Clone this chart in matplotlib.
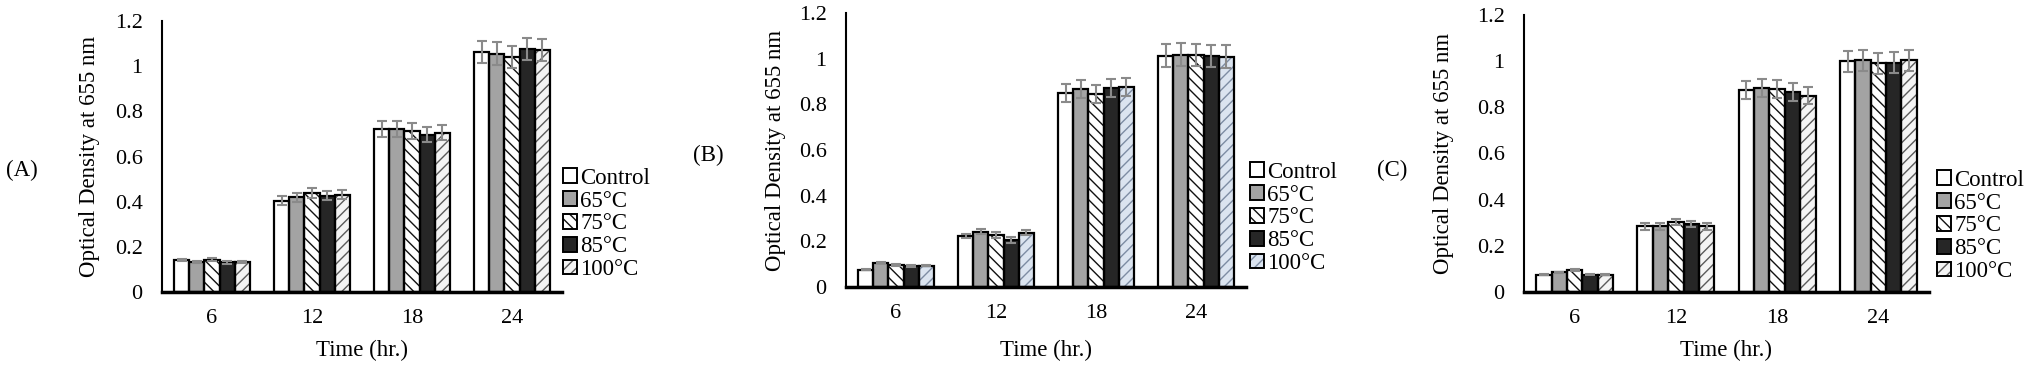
import numpy as np
import matplotlib
matplotlib.use("Agg")
from matplotlib import pyplot as plt
from matplotlib.patches import Patch

# values
times = ["6", "12", "18", "24"]
treatments = ["Control", "65\u00b0C", "75\u00b0C", "85\u00b0C", "100\u00b0C"]
yticks = [0, 0.2, 0.4, 0.6, 0.8, 1.0, 1.2]
ytick_labels = ["0", "0.2", "0.4", "0.6", "0.8", "1", "1.2"]
panel_names = ["(A)", "(B)", "(C)"]

# panel A, one row per treatment (6, 12, 18, 24 h)
od_a = [
    [0.143, 0.405, 0.720, 1.063],
    [0.134, 0.420, 0.720, 1.056],
    [0.143, 0.437, 0.712, 1.041],
    [0.131, 0.426, 0.697, 1.076],
    [0.134, 0.430, 0.706, 1.072],
]
err_a = [
    [0.005, 0.020, 0.035, 0.050],
    [0.005, 0.020, 0.035, 0.050],
    [0.006, 0.022, 0.035, 0.050],
    [0.005, 0.020, 0.032, 0.050],
    [0.004, 0.020, 0.032, 0.050],
]

# panel B
od_b = [
    [0.076, 0.223, 0.849, 1.013],
    [0.107, 0.243, 0.867, 1.018],
    [0.098, 0.227, 0.845, 1.018],
    [0.091, 0.206, 0.870, 1.013],
    [0.094, 0.238, 0.877, 1.009],
]
err_b = [
    [0.003, 0.010, 0.040, 0.050],
    [0.004, 0.012, 0.040, 0.050],
    [0.004, 0.012, 0.040, 0.048],
    [0.004, 0.012, 0.040, 0.048],
    [0.004, 0.012, 0.040, 0.050],
]

# panel C
od_c = [
    [0.075, 0.284, 0.876, 1.000],
    [0.085, 0.284, 0.883, 1.004],
    [0.097, 0.304, 0.879, 0.990],
    [0.075, 0.294, 0.866, 0.993],
    [0.075, 0.284, 0.851, 1.003],
]
err_c = [
    [0.003, 0.014, 0.040, 0.045],
    [0.003, 0.014, 0.040, 0.045],
    [0.004, 0.014, 0.040, 0.045],
    [0.003, 0.012, 0.040, 0.045],
    [0.003, 0.014, 0.038, 0.045],
]

plt.rcParams["font.family"] = ["Liberation Serif", "DejaVu Serif"]
FS = 16.5
FS_TICK = 16

W, H = 2027, 367
fig = plt.figure(figsize=(W / 100, H / 100), dpi=100)


def px(x0, y0, w, h):
    # pixel box (top-left origin) -> figure fractions
    return [x0 / W, (H - y0 - h) / H, w / W, h / H]


# face, hatch, hatch colour per treatment
styles_ac = [
    ("#ffffff", None, "k"),
    ("#a3a3a3", None, "k"),
    ("#ffffff", "\\\\\\", "#111111"),
    ("#262626", None, "k"),
    ("#f4f4f4", "///", "#5a5a5a"),
]
styles_b = list(styles_ac)
styles_b[4] = ("#dbe4f0", "///", "#7d8ca3")

panels = [
    dict(od=od_a, err=err_a, box=px(162, 21, 400, 271), styles=styles_ac,
         tag=(22, 170), ylab_x=89, leg=(563, 224)),
    dict(od=od_b, err=err_b, box=px(846, 13, 400, 274), styles=styles_b,
         tag=(708, 155), ylab_x=775, leg=(1250, 218)),
    dict(od=od_c, err=err_c, box=px(1524, 15, 405, 277), styles=styles_ac,
         tag=(1392, 170), ylab_x=1443, leg=(1937, 226)),
]

x = np.arange(len(times))
bw = 0.152

for name, p in zip(panel_names, panels):
    ax = fig.add_axes(p["box"])
    handles = []
    for i, lab in enumerate(treatments):
        face, hatch, hcol = p["styles"][i]
        xs = x + (i - 2) * bw
        vals = p["od"][i]
        # fill + hatch first, outline drawn on top in black
        ax.bar(xs, vals, bw, color=face, edgecolor=hcol, hatch=hatch, linewidth=0, zorder=2)
        ax.bar(xs, vals, bw, fill=False, edgecolor="black", linewidth=1.6, zorder=3)
        ax.errorbar(xs, vals, yerr=p["err"][i], fmt="none", ecolor="#8a8a8a",
                    elinewidth=1.5, capsize=3.5, capthick=1.5, zorder=4)
        h1 = Patch(facecolor=face, edgecolor=hcol, hatch=hatch, linewidth=0)
        h2 = Patch(fill=False, edgecolor="black", linewidth=1.4)
        handles.append((h1, h2))

    ax.set_xlim(-0.5, 3.5)
    ax.set_ylim(0, 1.2)
    ax.set_xticks(x)
    ax.set_xticklabels(times)
    ax.set_yticks(yticks)
    ax.set_yticklabels(ytick_labels)
    ax.tick_params(axis="both", length=0, labelsize=FS_TICK)
    ax.tick_params(axis="x", pad=12)
    ax.tick_params(axis="y", pad=14)
    for s in ["top", "right"]:
        ax.spines[s].set_visible(False)
    ax.spines["left"].set_linewidth(1.5)
    ax.spines["bottom"].set_linewidth(2.5)
    ax.spines["bottom"].set_zorder(5)

    # x label centred at y = 350 px from the top
    ax_h = p["box"][3] * H
    ax_y0 = p["box"][1] * H
    ax.set_xlabel("Time (hr.)", fontsize=FS, va="center")
    ax.xaxis.set_label_coords(0.5, ((H - 350) - ax_y0) / ax_h)
    fig.text(p["ylab_x"] / W, p["box"][1] + p["box"][3] / 2, "Optical Density at 655 nm",
             rotation=90, ha="center", va="center", fontsize=FS)
    fig.text(p["tag"][0] / W, (H - p["tag"][1]) / H, name, ha="center", va="center", fontsize=FS)

    fig.legend(handles, treatments, loc="center left",
               bbox_to_anchor=(p["leg"][0] / W, (H - p["leg"][1]) / H),
               frameon=False, fontsize=FS, borderpad=0, borderaxespad=0,
               handlelength=0.6, handleheight=0.6, handletextpad=0.15,
               labelspacing=0.08)

plt.savefig("out.png", dpi=100)
